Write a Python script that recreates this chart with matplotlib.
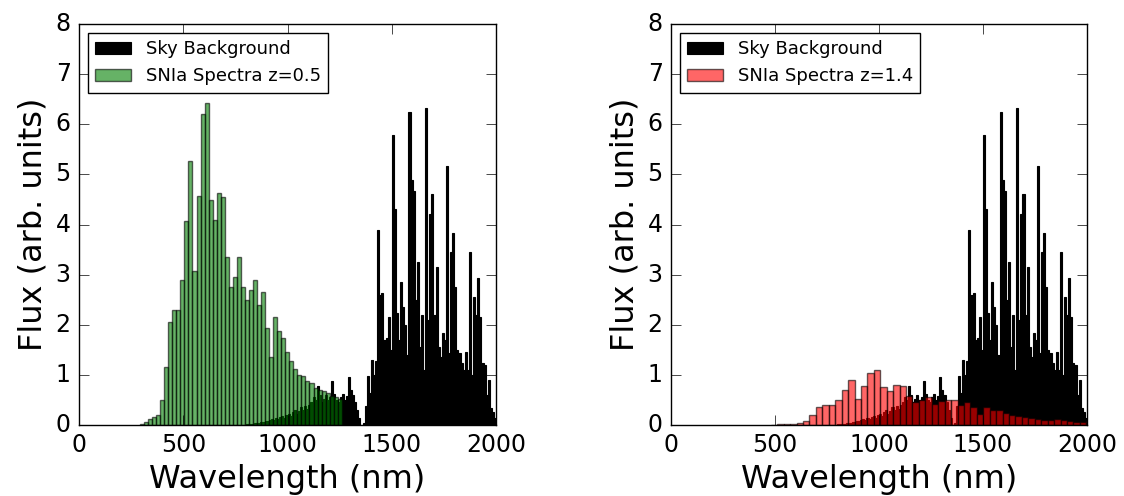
import numpy as np
import matplotlib
matplotlib.use("Agg")
import matplotlib.pyplot as plt

plt.style.use("classic")

# sky background, 10 nm bins from 800 nm
sky_start = 800
sky_width = 10
sky_flux = [
    0.02, 0.02, 0.03, 0.03, 0.04, 0.05, 0.05, 0.06, 0.07, 0.08,
    0.08, 0.10, 0.12, 0.10, 0.14, 0.12, 0.16, 0.18, 0.15, 0.20,
    0.22, 0.18, 0.25, 0.30, 0.22, 0.28, 0.35, 0.30, 0.38, 0.32,
    0.40, 0.45, 0.55, 0.50, 0.78, 0.60, 0.45, 0.52, 0.60, 0.50,
    0.55, 0.88, 0.62, 0.50, 0.45, 0.55, 0.62, 0.50, 0.58, 0.95,
    0.70, 0.60, 0.45, 0.30, 0.15, 0.00, 0.05, 0.37, 0.97, 0.63,
    1.30, 1.00, 1.28, 3.90, 2.60, 2.64, 1.70, 1.73, 2.16, 1.50,
    5.79, 4.30, 2.23, 1.70, 2.86, 2.36, 2.00, 1.40, 6.25, 4.89,
    4.67, 2.50, 3.26, 1.56, 2.20, 1.10, 6.32, 2.10, 4.20, 4.60,
    2.20, 3.16, 1.56, 1.36, 1.83, 1.70, 5.16, 1.43, 3.46, 3.83,
    2.76, 1.50, 1.43, 1.23, 1.10, 1.46, 1.10, 3.46, 1.00, 2.56,
    2.20, 2.93, 2.16, 1.23, 1.20, 0.60, 0.90, 0.33, 0.25, 0.15,
]

# SNIa spectrum redshifted to z=0.5
sn05_start = 292.6
sn05_width = 19.35
sn05_flux = [
    0.03, 0.07, 0.12, 0.17, 0.20, 0.50, 1.15, 2.06, 2.30, 2.30,
    2.90, 4.07, 5.26, 3.08, 4.56, 6.20, 6.42, 4.49, 4.09, 4.62,
    4.54, 3.36, 2.76, 2.96, 3.35, 2.76, 2.50, 2.70, 2.90, 2.40,
    2.66, 1.93, 1.35, 2.16, 1.88, 1.74, 1.46, 1.28, 1.12, 1.00,
    0.98, 0.88, 0.83, 0.73, 0.70, 0.67, 0.63, 0.58, 0.55, 0.51,
]

# SNIa spectrum redshifted to z=1.4
sn14_start = 480
sn14_width = 30.96
sn14_flux = [
    0.01, 0.02, 0.02, 0.03, 0.04, 0.09, 0.19, 0.35, 0.39, 0.39,
    0.49, 0.69, 0.89, 0.51, 0.77, 1.03, 1.09, 0.75, 0.67, 0.79,
    0.77, 0.57, 0.45, 0.50, 0.55, 0.42, 0.47, 0.49, 0.49, 0.40,
    0.45, 0.35, 0.22, 0.35, 0.30, 0.29, 0.23, 0.20, 0.18, 0.17,
    0.15, 0.13, 0.11, 0.11, 0.13, 0.10, 0.09, 0.07, 0.07, 0.09,
]


def panel(ax, start, width, flux, color, label):
    sky_x = sky_start + sky_width * np.arange(len(sky_flux))
    ax.bar(sky_x, sky_flux, width=sky_width, align="edge", color="k",
           edgecolor="k", linewidth=0.8, label="Sky Background")
    sn_x = start + width * np.arange(len(flux))
    ax.bar(sn_x, flux, width=width, align="edge", color=color, alpha=0.6,
           edgecolor="k", linewidth=1.0, label=label)
    ax.set_xlim(0, 2000)
    ax.set_ylim(0, 8)
    ax.set_xticks([0, 500, 1000, 1500, 2000])
    ax.set_yticks(range(9))
    ax.tick_params(labelsize=17, length=7, pad=6)
    ax.set_xlabel("Wavelength (nm)", fontsize=23)
    ax.set_ylabel("Flux (arb. units)", fontsize=23)
    ax.legend(loc="upper left", fontsize=13)


fig = plt.figure(figsize=(11.24, 4.96), dpi=100, facecolor="white")
ax1 = fig.add_axes([0.0703, 0.1431, 0.371, 0.8085])
ax2 = fig.add_axes([0.597, 0.1431, 0.370, 0.8085])

panel(ax1, sn05_start, sn05_width, sn05_flux, "g", "SNIa Spectra z=0.5")
panel(ax2, sn14_start, sn14_width, sn14_flux, "r", "SNIa Spectra z=1.4")

fig.savefig("out.png", dpi=100, facecolor="white")
